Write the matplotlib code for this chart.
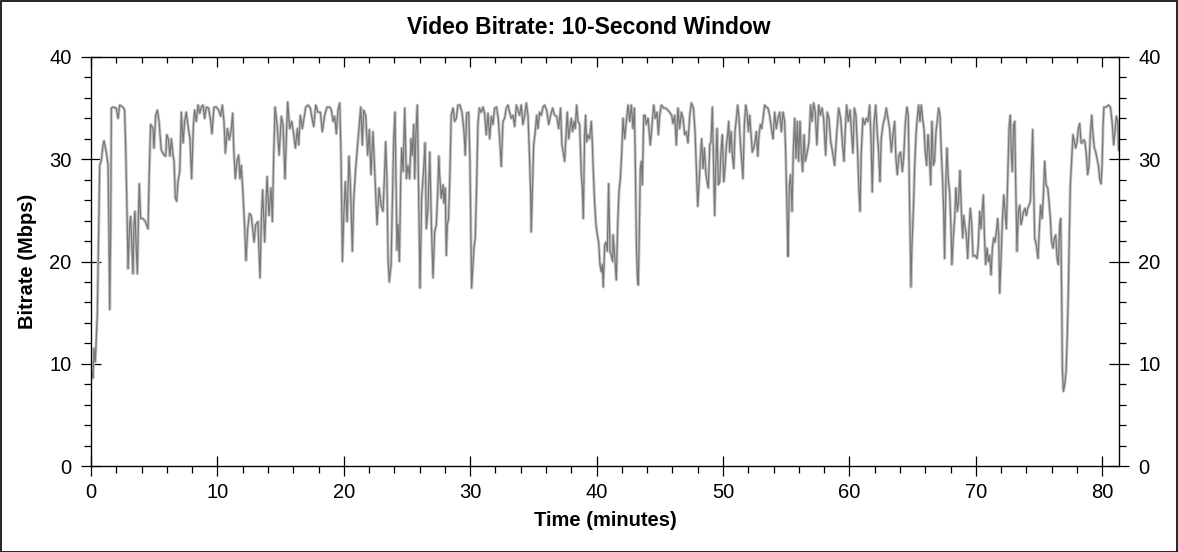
import matplotlib
matplotlib.use('Agg')
import matplotlib.pyplot as plt
from matplotlib.ticker import MultipleLocator
from matplotlib.patches import Rectangle

plt.rcParams['font.family'] = ['Liberation Sans', 'DejaVu Sans']

# values (minutes, Mbps)
time_min = [
    0.00, 0.16, 0.24, 0.34, 0.42, 0.50, 0.61, 0.69, 0.82, 0.95, 1.03, 1.21, 1.35, 1.42, 1.48, 1.56,
    1.61, 1.74, 2.00, 2.14, 2.27, 2.53, 2.66, 2.74, 2.85, 2.93, 3.06, 3.14, 3.22, 3.32, 3.40, 3.48,
    3.56, 3.67, 3.75, 3.82, 3.93, 4.11, 4.30, 4.51, 4.61, 4.72, 4.91, 4.98, 5.12, 5.25, 5.38, 5.56,
    5.78, 5.91, 5.99, 6.12, 6.25, 6.36, 6.49, 6.57, 6.67, 6.78, 6.88, 7.02, 7.15, 7.28, 7.41, 7.54,
    7.67, 7.83, 7.96, 8.10, 8.20, 8.33, 8.47, 8.60, 8.73, 8.86, 8.99, 9.12, 9.31, 9.47, 9.57, 9.73,
    9.92, 10.10, 10.26, 10.39, 10.52, 10.63, 10.79, 10.94, 11.10, 11.21, 11.29, 11.42, 11.55, 11.68,
    11.79, 11.89, 12.03, 12.16, 12.26, 12.40, 12.53, 12.68, 12.90, 13.03, 13.21, 13.37, 13.48, 13.58,
    13.74, 13.93, 14.08, 14.24, 14.35, 14.45, 14.56, 14.72, 14.88, 15.06, 15.19, 15.35, 15.46, 15.56,
    15.72, 15.88, 16.04, 16.17, 16.33, 16.43, 16.56, 16.72, 16.85, 16.99, 17.17, 17.35, 17.49, 17.62,
    17.78, 17.96, 18.15, 18.30, 18.49, 18.67, 18.88, 19.02, 19.15, 19.28, 19.41, 19.54, 19.68, 19.78,
    19.89, 19.99, 20.12, 20.26, 20.41, 20.52, 20.68, 20.78, 20.94, 21.05, 21.20, 21.34, 21.47, 21.57,
    21.73, 21.89, 22.02, 22.15, 22.31, 22.47, 22.63, 22.79, 22.95, 23.10, 23.21, 23.31, 23.42, 23.50,
    23.60, 23.74, 23.84, 23.95, 24.05, 24.13, 24.21, 24.29, 24.40, 24.50, 24.58, 24.69, 24.82, 24.95,
    25.08, 25.21, 25.32, 25.42, 25.53, 25.61, 25.71, 25.82, 25.93, 26.03, 26.16, 26.32, 26.43, 26.53,
    26.66, 26.80, 26.93, 27.06, 27.19, 27.32, 27.43, 27.52, 27.58, 27.71, 27.85, 27.92, 28.03, 28.11,
    28.19, 28.29, 28.40, 28.50, 28.64, 28.77, 28.90, 29.03, 29.19, 29.35, 29.51, 29.61, 29.72, 29.88,
    29.98, 30.06, 30.11, 30.19, 30.30, 30.40, 30.51, 30.61, 30.72, 30.88, 31.01, 31.14, 31.27, 31.41,
    31.54, 31.67, 31.80, 31.93, 32.09, 32.22, 32.36, 32.46, 32.59, 32.72, 32.86, 32.99, 33.12, 33.25,
    33.38, 33.52, 33.65, 33.78, 33.91, 34.04, 34.17, 34.31, 34.44, 34.57, 34.68, 34.78, 34.83, 34.91,
    35.02, 35.15, 35.26, 35.36, 35.49, 35.63, 35.76, 35.89, 36.05, 36.21, 36.36, 36.52, 36.68, 36.84,
    37.00, 37.15, 37.26, 37.37, 37.47, 37.58, 37.68, 37.79, 37.89, 38.00, 38.10, 38.21, 38.31, 38.42,
    38.53, 38.66, 38.79, 38.87, 38.95, 39.05, 39.13, 39.21, 39.32, 39.45, 39.58, 39.66, 39.74, 39.84,
    39.95, 40.06, 40.16, 40.27, 40.37, 40.45, 40.53, 40.64, 40.74, 40.85, 40.95, 41.06, 41.16, 41.27,
    41.30, 41.43, 41.56, 41.67, 41.77, 41.88, 41.99, 42.09, 42.22, 42.35, 42.49, 42.62, 42.75, 42.88,
    42.99, 43.07, 43.15, 43.23, 43.30, 43.38, 43.46, 43.54, 43.62, 43.73, 43.83, 43.94, 44.07, 44.25,
    44.41, 44.52, 44.65, 44.78, 44.89, 44.99, 45.12, 45.31, 45.47, 45.62, 45.78, 45.94, 46.05, 46.18,
    46.31, 46.44, 46.57, 46.71, 46.84, 46.97, 47.10, 47.23, 47.37, 47.50, 47.66, 47.79, 47.89, 48.00,
    48.10, 48.21, 48.31, 48.42, 48.53, 48.63, 48.74, 48.84, 48.95, 49.05, 49.16, 49.26, 49.34, 49.42,
    49.53, 49.63, 49.74, 49.84, 49.95, 50.06, 50.16, 50.27, 50.37, 50.45, 50.53, 50.64, 50.74, 50.85,
    50.95, 51.06, 51.16, 51.27, 51.37, 51.48, 51.58, 51.69, 51.80, 51.90, 52.01, 52.11, 52.22, 52.32,
    52.43, 52.53, 52.64, 52.75, 52.85, 52.96, 53.06, 53.17, 53.30, 53.43, 53.56, 53.69, 53.83, 53.96,
    54.09, 54.22, 54.35, 54.49, 54.62, 54.75, 54.88, 54.96, 55.04, 55.12, 55.14, 55.25, 55.35, 55.46,
    55.56, 55.67, 55.77, 55.88, 55.98, 56.09, 56.19, 56.30, 56.41, 56.51, 56.67, 56.80, 56.93, 57.04,
    57.17, 57.30, 57.43, 57.57, 57.70, 57.83, 57.96, 58.12, 58.25, 58.38, 58.52, 58.67, 58.83, 58.99,
    59.15, 59.31, 59.46, 59.57, 59.68, 59.78, 59.91, 60.05, 60.18, 60.28, 60.39, 60.52, 60.65, 60.76,
    60.84, 60.94, 61.07, 61.21, 61.34, 61.47, 61.60, 61.71, 61.81, 61.94, 62.08, 62.21, 62.31, 62.42,
    62.52, 62.66, 62.79, 62.92, 63.05, 63.18, 63.32, 63.45, 63.58, 63.68, 63.79, 63.92, 64.05, 64.19,
    64.29, 64.42, 64.55, 64.66, 64.74, 64.82, 64.87, 64.95, 65.06, 65.16, 65.27, 65.37, 65.48, 65.58,
    65.69, 65.79, 65.90, 66.00, 66.11, 66.22, 66.32, 66.43, 66.53, 66.64, 66.74, 66.85, 66.95, 67.06,
    67.17, 67.27, 67.38, 67.46, 67.53, 67.64, 67.72, 67.82, 67.93, 68.04, 68.11, 68.22, 68.33, 68.43,
    68.54, 68.64, 68.75, 68.85, 68.96, 69.04, 69.12, 69.25, 69.36, 69.46, 69.57, 69.68, 69.78, 69.94,
    70.10, 70.20, 70.31, 70.41, 70.52, 70.60, 70.68, 70.78, 70.89, 71.00, 71.10, 71.21, 71.31, 71.42,
    71.52, 71.63, 71.73, 71.81, 71.89, 72.00, 72.10, 72.21, 72.31, 72.42, 72.52, 72.63, 72.73, 72.81,
    72.89, 73.00, 73.08, 73.16, 73.26, 73.37, 73.47, 73.58, 73.68, 73.79, 73.89, 74.00, 74.11, 74.21,
    74.32, 74.42, 74.50, 74.58, 74.66, 74.79, 74.92, 75.03, 75.13, 75.24, 75.35, 75.45, 75.56, 75.69,
    75.79, 75.90, 76.00, 76.11, 76.22, 76.32, 76.43, 76.53, 76.64, 76.72, 76.80, 76.85, 76.93, 77.03,
    77.14, 77.24, 77.32, 77.40, 77.48, 77.59, 77.69, 77.80, 77.90, 78.01, 78.11, 78.22, 78.33, 78.43,
    78.54, 78.64, 78.75, 78.85, 78.96, 79.06, 79.17, 79.27, 79.38, 79.49, 79.59, 79.70, 79.80, 79.91,
    79.99, 80.07, 80.14, 80.33, 80.49, 80.65, 80.78, 80.91, 81.01, 81.12, 81.23, 81.30,
]

bitrate_mbps = [
    9.5, 8.6, 11.5, 10.2, 12.5, 14.8, 23.6, 29.4, 29.9, 31.4, 31.8, 30.7, 29.4, 22.6, 15.3, 23.6,
    35.0, 35.1, 35.0, 34.0, 35.3, 35.1, 34.8, 31.4, 24.9, 19.3, 23.6, 24.4, 21.9, 18.8, 23.6, 24.9,
    21.9, 18.8, 24.2, 27.6, 24.2, 24.2, 23.9, 23.2, 28.8, 33.4, 33.0, 31.1, 34.3, 34.8, 33.7, 30.9,
    30.4, 30.3, 32.4, 32.0, 30.3, 32.0, 30.4, 29.8, 26.2, 25.9, 27.8, 28.8, 34.6, 31.6, 33.7, 34.6,
    33.3, 32.0, 28.1, 33.3, 34.8, 33.7, 35.3, 34.5, 35.1, 35.3, 34.0, 35.1, 35.0, 33.7, 32.5, 35.1,
    35.1, 34.8, 34.2, 35.3, 33.7, 30.6, 33.0, 31.9, 33.0, 34.5, 31.1, 28.1, 29.8, 30.4,
    28.1, 29.4, 26.5, 23.2, 20.1, 23.2, 24.7, 24.5, 21.9, 23.6, 23.9, 18.4, 24.2, 27.0,
    21.9, 28.3, 24.5, 27.2, 23.9, 30.1, 35.1, 33.4, 30.4, 34.2, 33.4, 28.1, 32.4, 35.6,
    33.0, 33.7, 32.4, 31.1, 33.0, 31.4, 34.3, 33.0, 34.0, 35.1, 35.3, 35.0, 34.0, 33.2,
    35.3, 34.6, 34.6, 32.7, 34.3, 35.1, 35.1, 34.8, 33.7, 34.2, 32.5, 34.8, 35.5, 30.4,
    20.0, 24.2, 27.8, 23.9, 30.3, 27.5, 21.0, 25.9, 29.1, 30.7, 33.0, 35.1, 31.4, 34.8,
    34.3, 30.4, 32.9, 28.5, 32.7, 28.1, 23.6, 27.2, 25.5, 24.9, 28.1, 31.7, 27.8, 20.3,
    18.0, 19.7, 25.5, 32.0, 34.6, 27.5, 21.1, 23.6, 20.0, 27.8, 31.1, 28.8, 35.0, 28.1,
    29.4, 28.1, 32.0, 30.4, 33.4, 28.1, 32.7, 35.3, 25.9, 17.4, 26.2, 29.1, 31.6, 23.2,
    25.2, 30.7, 23.6, 18.4, 22.9, 23.6, 26.8, 30.3, 28.5, 26.2, 27.5, 25.7, 27.2, 20.6,
    23.6, 24.2, 28.8, 34.3, 35.0, 33.7, 34.0, 35.3, 35.3, 34.6, 32.7, 30.4, 34.5, 34.6,
    29.8, 22.6, 17.4, 19.0, 21.3, 22.3, 27.5, 33.4, 35.0, 34.6, 35.1, 34.5, 32.4, 34.5,
    32.0, 34.2, 33.4, 35.0, 35.1, 34.0, 31.4, 29.3, 33.7, 34.0, 35.0, 35.3, 34.6, 34.0,
    34.3, 33.2, 35.3, 34.8, 34.3, 35.3, 33.4, 34.3, 35.5, 34.3, 30.7, 26.8, 22.9, 26.5,
    31.4, 32.7, 34.3, 33.0, 34.6, 34.3, 35.1, 35.3, 34.8, 33.4, 34.3, 35.0, 34.3, 34.2,
    33.0, 35.0, 31.4, 30.6, 29.8, 32.4, 34.6, 32.0, 33.0, 34.0, 32.7, 33.7, 33.0, 35.3,
    33.7, 33.4, 28.5, 27.2, 24.2, 32.4, 34.3, 31.7, 32.4, 32.0, 33.7, 31.7, 28.8, 25.9,
    23.6, 22.6, 21.9, 19.7, 19.0, 19.7, 17.5, 21.6, 21.9, 21.0, 27.6, 21.0, 20.6, 20.0,
    22.6, 20.6, 18.2, 23.6, 26.8, 28.1, 30.7, 34.0, 32.0, 33.7, 35.3, 33.7, 35.3, 33.0,
    35.0, 29.1, 21.6, 18.4, 17.7, 22.9, 29.1, 29.8, 27.5, 34.3, 34.3, 33.4, 34.0, 31.4,
    33.7, 35.3, 34.0, 34.6, 32.4, 34.3, 35.3, 35.0, 35.0, 34.8, 34.6, 34.3, 33.5, 34.3,
    31.4, 35.0, 33.0, 34.6, 34.0, 32.4, 32.7, 31.6, 34.3, 35.5, 35.0, 32.7, 29.1, 25.4,
    27.5, 30.1, 32.0, 29.1, 31.1, 28.8, 27.8, 27.2, 31.4, 31.7, 35.1, 29.4, 24.5, 29.1,
    33.0, 27.5, 27.8, 30.7, 32.4, 27.8, 29.1, 31.4, 32.4, 33.7, 30.7, 32.7, 30.4, 29.1,
    32.7, 34.0, 35.3, 34.0, 31.7, 29.8, 28.1, 33.4, 35.3, 34.6, 32.7, 34.3, 32.4, 30.7,
    31.1, 31.7, 32.7, 30.3, 32.4, 33.4, 33.0, 34.0, 35.3, 35.1, 35.0, 34.3, 33.0, 32.0,
    34.6, 33.0, 34.0, 34.6, 32.7, 34.6, 33.7, 30.7, 25.9, 21.6, 20.5, 27.5, 28.5, 24.9,
    30.7, 34.0, 30.1, 33.7, 29.8, 33.7, 30.7, 28.8, 32.4, 29.8, 30.7, 31.7, 35.3, 33.7,
    35.5, 34.6, 31.4, 35.3, 34.3, 35.0, 34.0, 30.4, 34.6, 34.0, 31.7, 30.7, 29.4, 32.4,
    35.0, 34.0, 31.4, 29.8, 33.0, 35.3, 33.7, 34.8, 32.4, 30.6, 35.0, 34.3, 30.7, 26.8,
    24.9, 30.7, 34.0, 33.4, 34.0, 33.7, 35.3, 32.0, 26.8, 33.4, 35.3, 32.4, 30.7, 27.8,
    32.0, 33.4, 34.0, 35.0, 34.0, 33.0, 30.7, 32.4, 33.7, 30.1, 28.5, 30.4, 30.7, 28.8,
    30.1, 33.4, 35.1, 34.3, 27.5, 21.6, 17.5, 21.6, 24.9, 29.1, 32.4, 34.0, 35.3, 33.7,
    35.3, 34.0, 33.0, 30.7, 29.4, 32.4, 30.7, 27.5, 33.7, 29.4, 29.8, 32.7, 33.7, 35.0,
    34.3, 30.7, 27.8, 24.9, 20.3, 28.1, 31.1, 28.1, 26.8, 23.2, 19.7, 22.3, 24.2, 27.2,
    24.9, 25.9, 28.9, 25.2, 22.3, 24.5, 23.6, 22.6, 20.3, 23.2, 25.2, 23.6, 20.5, 20.6,
    20.3, 21.6, 24.9, 23.2, 25.2, 26.5, 22.6, 19.7, 21.3, 20.0, 20.6, 18.7, 21.3, 22.3,
    21.9, 22.9, 24.2, 22.6, 16.9, 20.3, 23.9, 26.5, 24.9, 23.2, 27.8, 33.0, 34.3, 30.7,
    28.8, 33.4, 33.7, 27.5, 21.0, 24.9, 25.5, 23.6, 24.2, 24.9, 25.2, 24.5, 25.2, 25.5,
    25.9, 29.8, 32.9, 27.5, 22.3, 21.6, 20.3, 23.2, 25.5, 24.2, 26.5, 29.8, 27.5, 27.2,
    25.9, 24.2, 21.9, 21.3, 22.3, 22.6, 20.3, 19.7, 23.6, 24.2, 16.1, 9.5, 7.3, 7.9,
    9.2, 12.8, 17.0, 22.6, 27.5, 30.1, 32.4, 31.7, 31.1, 31.7, 33.0, 33.5, 31.6, 31.6,
    31.9, 31.7, 30.4, 28.5, 29.4, 32.4, 34.3, 32.4, 31.1, 30.7, 30.1, 29.4, 28.1, 27.6,
    29.4, 33.4, 35.1, 35.1, 35.3, 35.1, 33.7, 31.4, 32.7, 34.2, 33.7, 30.9,
]

x_major = list(range(0, 81, 10))
y_major = list(range(0, 41, 10))

fig = plt.figure(figsize=(11.78, 5.52), dpi=100)
ax = fig.add_axes([91 / 1178, 86 / 552, 1028 / 1178, 409 / 552])

# light halo under the dark trace
ax.plot(time_min, bitrate_mbps, color='#c8c8c8', lw=2.2, solid_joinstyle='round')
ax.plot(time_min, bitrate_mbps, color='#787878', lw=0.9)

ax.set_xlim(0, 81.33)
ax.set_ylim(0, 40)
ax.set_xticks(x_major)
ax.set_yticks(y_major)
ax.xaxis.set_minor_locator(MultipleLocator(2))
ax.yaxis.set_minor_locator(MultipleLocator(2))

for s in ax.spines.values():
    s.set_linewidth(0.9)
    s.set_color('black')

ax.tick_params(which='major', direction='inout', length=14, width=0.9,
               labelsize=14.5, right=True, labelright=True)
ax.tick_params(which='minor', direction='out', length=5, width=0.9, right=True)
ax.tick_params(axis='x', which='major', length=15, pad=4.5)
ax.tick_params(axis='y', which='major', pad=7)

# top ticks point inwards
top = ax.twiny()
top.set_xlim(ax.get_xlim())
top.set_xticks(x_major)
top.xaxis.set_minor_locator(MultipleLocator(2))
top.tick_params(which='both', direction='in', labeltop=False, width=0.9)
top.tick_params(which='major', length=7)
top.tick_params(which='minor', length=4)

fig.text(0.5, 1 - 28 / 552, 'Video Bitrate: 10-Second Window', fontsize=16.5,
         fontweight='bold', ha='center', va='center')
ax.set_xlabel('Time (minutes)', fontsize=14.5, fontweight='bold', labelpad=7)
ax.set_ylabel('Bitrate (Mbps)', fontsize=14.5, fontweight='bold', labelpad=9)

fig.add_artist(Rectangle((0.5 / 1178, 0.5 / 552), 1 - 1.5 / 1178, 1 - 1.5 / 552,
                         transform=fig.transFigure, fill=False, lw=1.2, ec='black'))

fig.savefig('out.png', dpi=100)
